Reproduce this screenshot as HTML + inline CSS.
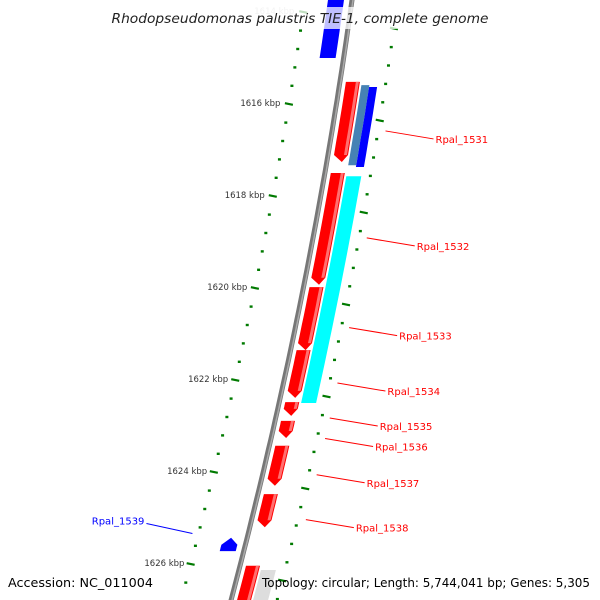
<!DOCTYPE html>
<html><head><meta charset="utf-8"><style>
html,body{margin:0;padding:0;background:#fff}
svg{display:block}
text{font-family:"DejaVu Sans","Liberation Sans",sans-serif}
</style></head><body>
<svg id="map" width="600" height="600" viewBox="0 0 600 600" xmlns="http://www.w3.org/2000/svg">
<g id="ticks"></g>
<g id="backbone"></g>
<g id="genes"></g>
<g id="labels"></g>
<rect x="108" y="7" width="385" height="22" fill="#fff" fill-opacity="0.75"/>
<text x="300" y="23" text-anchor="middle" font-size="13.5" font-style="italic" fill="#222" textLength="377" lengthAdjust="spacingAndGlyphs">Rhodopseudomonas palustris TIE-1, complete genome</text>
<text x="8" y="587" font-size="12" fill="#000" textLength="145" lengthAdjust="spacingAndGlyphs">Accession: NC_011004</text>
<text x="262" y="587" font-size="12" fill="#000" textLength="328" lengthAdjust="spacingAndGlyphs">Topology: circular; Length: 5,744,041 bp; Genes: 5,305</text>
</svg>
<script>
// ---- data ----
const majorTicks = [1614, 1616, 1618, 1620, 1622, 1624, 1626];
const tickLabels = ["1614 kbp","1616 kbp","1618 kbp","1620 kbp","1622 kbp","1624 kbp","1626 kbp"];
const geneNames = ["Rpal_1531","Rpal_1532","Rpal_1533","Rpal_1534","Rpal_1535","Rpal_1536","Rpal_1537","Rpal_1538","Rpal_1540","Rpal_1539"];
const geneStarts = [1615.52,1617.50,1619.98,1621.35,1622.48,1622.89,1623.43,1624.48,1626.04,1625.43];
const geneEnds   = [1617.26,1619.93,1621.35,1622.39,1622.78,1623.26,1624.30,1625.20,1627.00,1625.72];
const geneStrand = [1,1,1,1,1,1,1,1,1,-1];
const showLabel  = [1,1,1,1,1,1,1,1,0,1];
const otherStarts = [1615.59,1615.63,1617.57,1626.13,1613.52];
const otherEnds   = [1617.33,1617.37,1622.50,1627.00,1615.00];
const otherColors = ["#4682b4","#0000ff","#00ffff","#dddddd","#0000ff"];
const otherLane   = ["r1a","r1b","r1","r1","l"];

// ---- axis functions ----
const SVGNS="http://www.w3.org/2000/svg";
function yOf(k){return 104+(k-1616)*46;}
function xb(y){return 352-0.139*y-1.042e-4*y*y;}
function mk(tag,attrs,parent,name){const e=document.createElementNS(SVGNS,tag);for(const a in attrs)e.setAttribute(a,attrs[a]);
  
  
  parent.appendChild(e);return e;}
const lanes={f:[6,20],r1:[22,37],r1a:[22,30],r1b:[30,38],l:[-24,-8]};

// backbone
const bb=document.getElementById('backbone');
let pts=[];for(let y=-10;y<=610;y+=10)pts.push(xb(y).toFixed(1)+","+y);
mk('polyline',{points:pts.join(' '),fill:'none',stroke:'#777','stroke-width':5},bb,'backbone-line');
pts=[];for(let y=-10;y<=610;y+=10)pts.push((xb(y)+1).toFixed(1)+","+y);
mk('polyline',{points:pts.join(' '),fill:'none',stroke:'#aaa','stroke-width':1.5},bb,'backbone-highlight');

// ticks
const tg=document.getElementById('ticks');
function tickMark(y,off,major,name){
  const x=xb(y)+off;
  if(major) mk('line',{x1:x-4,y1:y-0.8,x2:x+4,y2:y+0.8,stroke:'#007a00','stroke-width':2.2},tg,name);
  else mk('rect',{x:x-1.5,y:y-1,width:3,height:2.4,fill:'#007a00'},tg,name);
}
for(let i=0;i<majorTicks.length;i++){
  const k0=majorTicks[i];
  for(let j=0;j<5;j++){
    const k=k0+j*0.4, y=yOf(k);
    if(y>-5&&y<600){tickMark(y,-47-(y/600)*3,j===0,j===0?'major-tick':'minor-tick');}
    const y2=y+16.5;
    if(y2>-5&&y2<600&&y2>8){tickMark(y2,46,j===0,j===0?'outer-major-tick':'outer-minor-tick');}
  }
  const y=yOf(k0);
  const t=mk('text',{x:xb(y)-56,y:y+2,'text-anchor':'end','font-size':8.5,fill:i===0?'#ccc':'#333'},tg,'tick-label');
  t.textContent=tickLabels[i];
}

// genes
const gg=document.getElementById('genes');
function gene(k1,k2,lane,color,strand,arrow,name){
  const [o1,o2]=lanes[lane];const y1=yOf(k1),y2=yOf(k2);const ah=arrow?7:0;
  const L=[],R=[];const a=strand>0?y1:y1+ah,b=strand>0?y2-ah:y2;
  for(let s=0;s<=6;s++){const y=a+(b-a)*s/6;L.push([xb(y)+o1,y]);R.push([xb(y)+o2,y]);}
  let p=[];
  if(arrow&&strand<0)p.push([xb(y1)+(o1+o2)/2,y1]);
  R.forEach(q=>p.push(q));
  if(arrow&&strand>0)p.push([xb(y2)+(o1+o2)/2+2,y2]);
  L.slice().reverse().forEach(q=>p.push(q));
  mk('polygon',{points:p.map(q=>q[0].toFixed(1)+","+q[1].toFixed(1)).join(' '),fill:color},gg,name);
  if(color==='#ff0000'){
    const hs=[];for(let s=0;s<=6;s++){const y=a+(b-a)*s/6;hs.push([xb(y)+o2-4,y]);}
    for(let s=6;s>=0;s--){const y=a+(b-a)*s/6;hs.push([xb(y)+o2-1,y]);}
    mk('polygon',{points:hs.map(q=>q[0].toFixed(1)+","+q[1].toFixed(1)).join(' '),fill:'#ff7070'},gg,name+'-shade');
  }
}
for(let i=0;i<otherStarts.length;i++)gene(otherStarts[i],otherEnds[i],otherLane[i],otherColors[i],-1,false,'reverse-gene');
for(let i=0;i<geneNames.length;i++){
  const fwd=geneStrand[i]>0;
  gene(geneStarts[i],geneEnds[i],fwd?'f':'l',fwd?'#ff0000':'#0000ff',geneStrand[i],geneEnds[i]<1626.5,'gene-'+geneNames[i].toLowerCase());
}

// labels
const lg=document.getElementById('labels');
for(let i=0;i<geneNames.length;i++){
  if(!showLabel[i])continue;
  const ym=(yOf(geneStarts[i])+yOf(geneEnds[i]))/2;
  if(geneStrand[i]>0){
    const ys=ym+9, xs=xb(ym)+52;
    mk('line',{x1:xs,y1:ys,x2:xs+48,y2:ys+8,stroke:'#ff0000','stroke-width':1},lg,'label-leader');
    const t=mk('text',{x:xs+50,y:ys+12,'font-size':10,fill:'#ff0000'},lg,'gene-label');
    t.textContent=geneNames[i];
  } else {
    const ys=ym-11, xs=xb(ym)-53;
    mk('line',{x1:xs,y1:ys,x2:xs-46,y2:ys-10,stroke:'#0000ff','stroke-width':1},lg,'label-leader');
    const t=mk('text',{x:xs-48,y:ys-9,'text-anchor':'end','font-size':10,fill:'#0000ff'},lg,'gene-label');
    t.textContent=geneNames[i];
  }
}
</script>
</body></html>
